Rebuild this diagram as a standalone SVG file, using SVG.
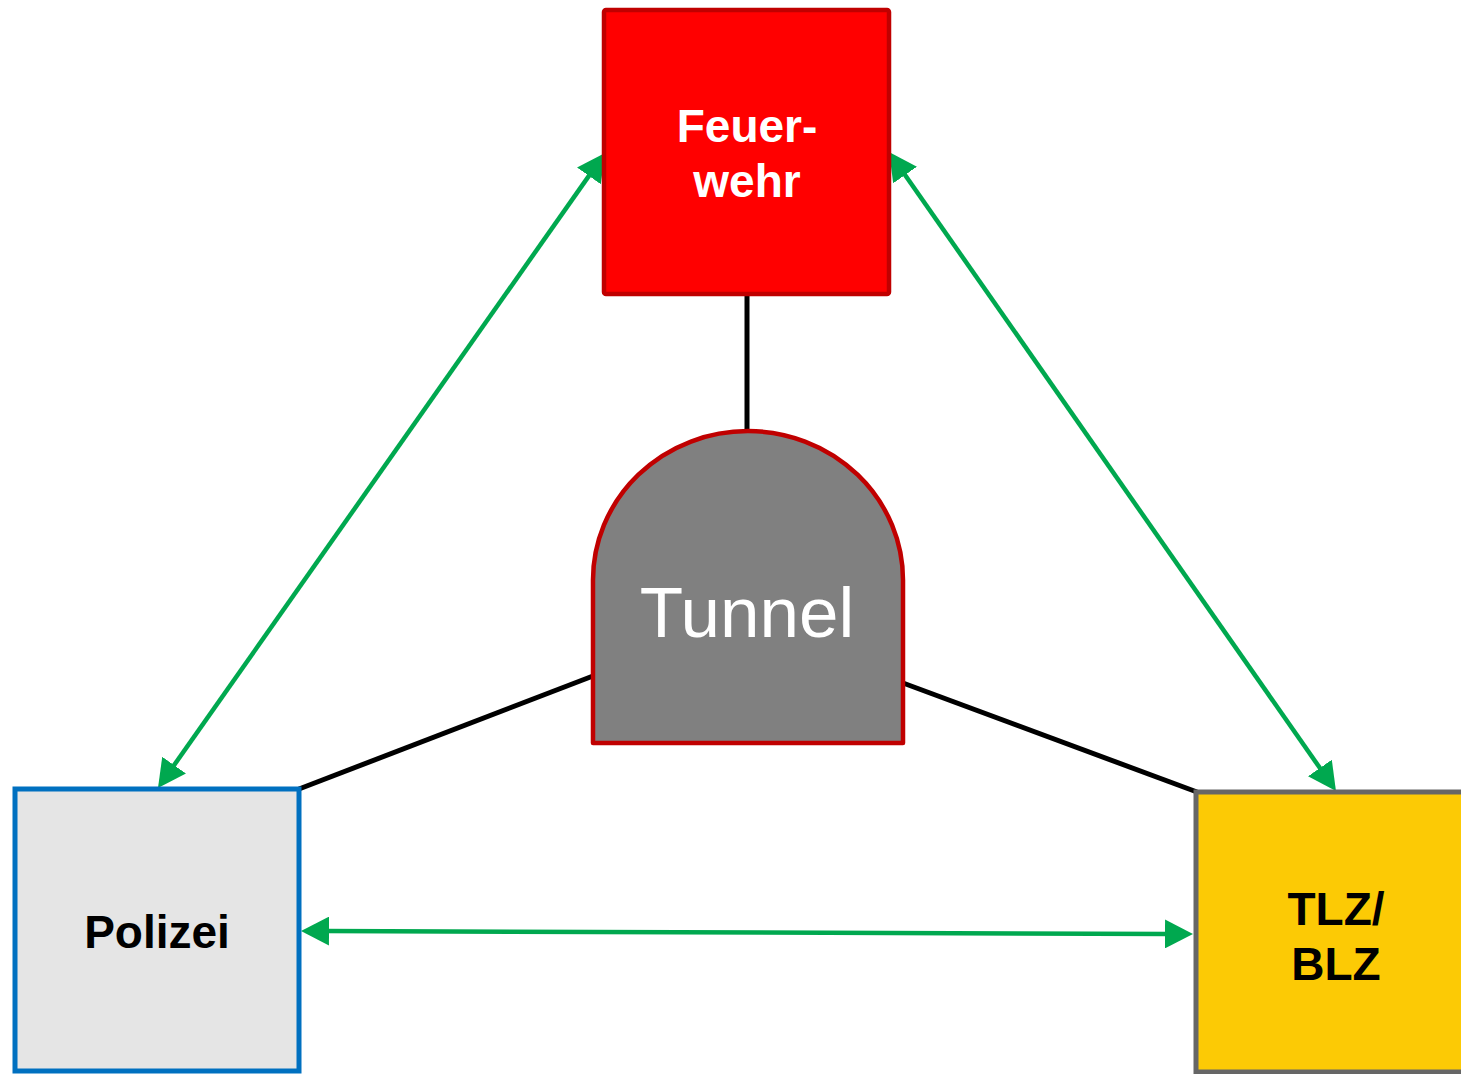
<svg xmlns="http://www.w3.org/2000/svg" width="1461" height="1074" viewBox="0 0 1461 1074">
  <style>
    .lbl { font-family: "Liberation Sans", Arial, sans-serif; text-anchor: middle; }
    .bold { font-weight: bold; font-size: 46px; }
    .link { stroke: #000000; stroke-width: 5; fill: none; }
    .flow { stroke: #00A84F; stroke-width: 4.5; fill: none; marker-start: url(#arrow); marker-end: url(#arrow); }
  </style>
  <defs>
    <marker id="arrow" markerUnits="userSpaceOnUse" markerWidth="28" markerHeight="29" refX="4" refY="14.5" orient="auto-start-reverse" viewBox="0 0 28 29">
      <path d="M0,0 L28,14.5 L0,29 Z" fill="#00A84F"/>
    </marker>
  </defs>
  <rect width="1461" height="1074" fill="#FFFFFF"/>

  <!-- Links from the tunnel to the three services -->
  <g id="connectors">
    <line class="link" x1="747" y1="295" x2="747" y2="432"/>
    <line class="link" x1="593" y1="676" x2="299" y2="789"/>
    <line class="link" x1="903" y1="683" x2="1197" y2="792"/>
    <!-- Two-way communication between services -->
    <line class="flow" x1="171.8" y1="768.4" x2="591.2" y2="172.6"/>
    <line class="flow" x1="902.8" y1="171.7" x2="1322.2" y2="771.3"/>
    <line class="flow" x1="325" y1="931.1" x2="1169" y2="933.9"/>
  </g>

  <g id="feuerwehr">
    <rect x="604" y="10" width="285" height="284" rx="2" fill="#FF0000" stroke="#C00000" stroke-width="4.5"/>
    <text class="lbl bold" x="747" y="142" fill="#FFFFFF">Feuer-</text>
    <text class="lbl bold" x="747" y="197" fill="#FFFFFF">wehr</text>
  </g>

  <g id="tunnel">
    <path d="M593,743 L593,580 A155,149 0 0 1 903,580 L903,743 Z" fill="#808080" stroke="#C00000" stroke-width="4.5" stroke-linejoin="round"/>
    <text class="lbl" x="747" y="637" font-size="71" fill="#FFFFFF">Tunnel</text>
  </g>

  <g id="polizei">
    <rect x="15" y="789" width="284" height="282" fill="#E5E5E5" stroke="#0070C0" stroke-width="5"/>
    <text class="lbl bold" x="157" y="948" font-size="47" fill="#000000">Polizei</text>
  </g>

  <g id="tlz-blz">
    <rect x="1196" y="792" width="300" height="280" fill="#FCCA05" stroke="#666666" stroke-width="5"/>
    <text class="lbl bold" x="1336" y="925" font-size="48" fill="#000000">TLZ/</text>
    <text class="lbl bold" x="1336" y="980" font-size="48" fill="#000000">BLZ</text>
  </g>
</svg>
